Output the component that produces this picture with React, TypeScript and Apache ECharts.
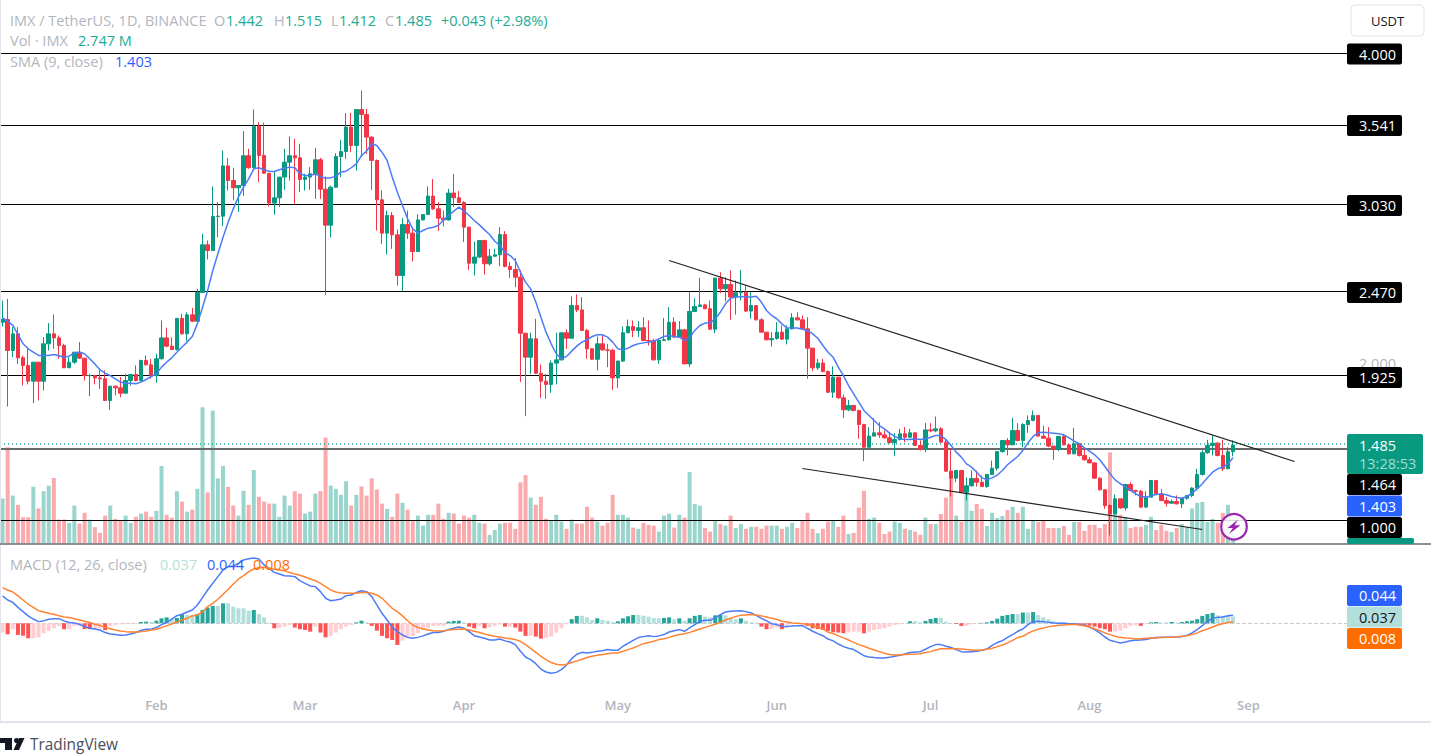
import React, { useEffect, useRef } from "react";
import * as echarts from "echarts";

const opens = [
  2.274,2.291,2.092,2.199,2.045,1.996,1.895,2.017,1.895,2.135,
  2.199,2.173,2.124,1.981,2.017,2.081,2.043,1.931,1.931,1.916,
  1.910,1.771,1.863,1.852,1.818,1.899,1.938,1.899,2.028,2.000,
  1.931,2.039,2.173,2.120,2.098,2.298,2.199,2.321,2.280,2.465,
  2.771,2.734,2.953,2.955,3.278,3.184,3.137,3.152,3.343,3.266,
  3.533,3.345,3.231,3.039,3.073,3.206,3.302,3.343,3.330,3.191,
  3.206,3.227,3.317,3.128,2.897,3.141,3.338,3.370,3.527,3.409,
  3.640,3.608,3.463,3.313,3.060,2.846,2.959,2.835,2.574,2.901,
  2.846,2.728,2.931,2.966,3.084,3.002,2.942,2.931,3.103,3.073,
  3.043,2.884,2.653,2.692,2.799,2.649,2.698,2.707,2.837,2.632,
  2.612,2.563,2.203,2.049,2.167,1.946,1.895,1.874,2.011,2.032,
  2.206,2.171,2.381,2.353,2.221,2.103,2.036,2.135,2.096,2.094,
  1.916,2.024,2.206,2.246,2.221,2.238,2.156,2.154,2.032,2.156,
  2.161,2.274,2.178,2.225,2.006,2.343,2.375,2.385,2.360,2.229,
  2.557,2.488,2.516,2.435,2.463,2.467,2.345,2.381,2.289,2.210,
  2.161,2.169,2.210,2.165,2.231,2.302,2.289,2.231,2.107,1.981,
  2.011,1.957,1.824,1.921,1.788,1.711,1.739,1.707,1.617,1.471,
  1.542,1.563,1.550,1.531,1.501,1.520,1.557,1.535,1.563,1.482,
  1.456,1.582,1.576,1.589,1.503,1.317,1.272,1.321,1.182,1.223,
  1.270,1.246,1.218,1.296,1.336,1.443,1.514,1.486,1.578,1.514,
  1.617,1.642,1.675,1.542,1.529,1.478,1.456,1.540,1.486,1.428,
  1.493,1.418,1.390,1.370,1.272,1.197,1.096,1.043,1.139,1.081,
  1.231,1.193,1.188,1.086,1.150,1.257,1.171,1.128,1.111,1.122,
  1.107,1.143,1.161,1.208,1.296,1.435,1.482,1.497,1.418,1.332,
  1.442,
];
const closes = [
  2.291,2.092,2.199,2.045,1.996,1.895,2.017,1.895,2.135,2.199,
  2.173,2.124,1.981,2.017,2.081,2.043,1.931,1.931,1.916,1.910,
  1.771,1.863,1.852,1.818,1.899,1.938,1.899,2.028,2.000,1.931,
  2.039,2.173,2.120,2.098,2.298,2.199,2.321,2.280,2.465,2.771,
  2.734,2.953,2.955,3.278,3.184,3.137,3.152,3.343,3.266,3.533,
  3.345,3.231,3.039,3.073,3.206,3.302,3.343,3.330,3.191,3.206,
  3.227,3.317,3.128,2.897,3.141,3.338,3.370,3.527,3.409,3.640,
  3.608,3.463,3.313,3.060,2.846,2.959,2.835,2.574,2.901,2.846,
  2.728,2.931,2.966,3.084,3.002,2.942,2.931,3.103,3.073,3.043,
  2.884,2.653,2.692,2.799,2.649,2.698,2.707,2.837,2.632,2.612,
  2.563,2.203,2.049,2.167,1.946,1.895,1.874,2.011,2.032,2.206,
  2.171,2.381,2.353,2.221,2.103,2.036,2.135,2.096,2.094,1.916,
  2.024,2.206,2.246,2.221,2.238,2.156,2.154,2.032,2.156,2.161,
  2.274,2.178,2.225,2.006,2.343,2.375,2.385,2.360,2.229,2.557,
  2.488,2.516,2.435,2.463,2.467,2.345,2.381,2.289,2.210,2.161,
  2.169,2.210,2.165,2.231,2.302,2.289,2.231,2.107,1.981,2.011,
  1.957,1.824,1.921,1.788,1.711,1.739,1.707,1.617,1.471,1.542,
  1.563,1.550,1.531,1.501,1.520,1.557,1.535,1.563,1.482,1.456,
  1.582,1.576,1.589,1.503,1.317,1.272,1.321,1.182,1.223,1.270,
  1.246,1.218,1.296,1.336,1.443,1.514,1.486,1.578,1.514,1.617,
  1.642,1.675,1.542,1.529,1.478,1.456,1.540,1.486,1.428,1.493,
  1.418,1.390,1.370,1.272,1.197,1.096,1.043,1.139,1.081,1.231,
  1.193,1.188,1.086,1.150,1.257,1.171,1.128,1.111,1.122,1.107,
  1.143,1.161,1.208,1.296,1.435,1.482,1.497,1.418,1.332,1.442,
  1.485,
];
const highs = [
  2.413,2.424,2.242,2.242,2.060,2.113,2.017,2.017,2.178,2.268,
  2.323,2.188,2.135,2.049,2.081,2.146,2.043,1.942,1.931,1.964,
  1.964,1.863,1.867,1.921,1.942,1.942,1.996,2.032,2.060,2.039,
  2.071,2.285,2.238,2.178,2.302,2.328,2.338,2.366,2.488,2.842,
  2.799,3.146,3.045,3.377,3.330,3.266,3.152,3.501,3.388,3.640,
  3.559,3.555,3.231,3.244,3.206,3.388,3.467,3.452,3.420,3.227,
  3.270,3.394,3.330,3.210,3.152,3.360,3.445,3.617,3.619,3.640,
  3.762,3.645,3.467,3.319,3.120,2.991,2.981,2.869,2.944,2.991,
  2.884,2.966,2.966,3.146,3.193,3.045,2.991,3.131,3.227,3.116,
  3.051,2.889,2.792,2.799,2.799,2.745,2.745,2.884,2.859,2.660,
  2.685,2.610,2.206,2.206,2.296,2.002,1.942,2.028,2.206,2.206,
  2.227,2.439,2.452,2.435,2.231,2.103,2.182,2.188,2.135,2.103,
  2.028,2.246,2.291,2.285,2.281,2.306,2.285,2.167,2.167,2.302,
  2.370,2.306,2.281,2.231,2.467,2.428,2.559,2.392,2.413,2.557,
  2.595,2.563,2.606,2.542,2.610,2.510,2.467,2.381,2.300,2.210,
  2.210,2.274,2.253,2.253,2.332,2.338,2.317,2.306,2.109,2.039,
  2.039,1.964,1.991,1.921,1.809,1.775,1.743,1.711,1.621,1.600,
  1.657,1.632,1.578,1.567,1.561,1.589,1.600,1.589,1.563,1.514,
  1.627,1.625,1.668,1.600,1.525,1.460,1.321,1.325,1.278,1.321,
  1.321,1.289,1.296,1.385,1.443,1.514,1.529,1.660,1.625,1.625,
  1.675,1.707,1.675,1.610,1.600,1.478,1.540,1.557,1.493,1.595,
  1.497,1.471,1.407,1.375,1.278,1.201,1.103,1.167,1.139,1.236,
  1.246,1.197,1.197,1.188,1.261,1.261,1.203,1.150,1.135,1.161,
  1.146,1.161,1.214,1.332,1.454,1.518,1.546,1.505,1.518,1.471,
  1.515,
];
const lows = [
  2.246,1.732,2.049,2.006,1.867,1.874,1.754,1.771,1.835,2.092,
  2.103,2.039,1.981,1.981,2.006,2.039,1.899,1.799,1.874,1.846,
  1.771,1.711,1.803,1.792,1.814,1.867,1.893,1.893,1.996,1.910,
  1.884,2.034,2.113,2.096,2.092,2.195,2.152,2.276,2.276,2.465,
  2.677,2.734,2.820,2.891,3.120,3.058,2.981,3.086,3.259,3.266,
  3.173,3.227,3.017,2.964,3.013,3.124,3.184,3.034,3.109,3.120,
  3.124,3.066,3.066,2.450,2.820,3.137,3.206,3.323,3.366,3.248,
  3.334,3.355,3.124,2.863,2.777,2.709,2.745,2.510,2.473,2.809,
  2.664,2.724,2.927,2.961,2.996,2.859,2.889,2.927,3.013,3.039,
  2.788,2.610,2.574,2.687,2.580,2.638,2.692,2.634,2.627,2.559,
  2.499,1.889,1.670,1.942,1.942,1.788,1.782,1.820,1.874,2.028,
  2.103,2.171,2.338,2.216,2.039,2.032,1.964,2.092,1.985,1.839,
  1.852,2.017,2.203,2.178,2.178,2.152,2.124,2.028,2.006,2.156,
  2.156,2.173,2.173,2.006,1.985,2.338,2.375,2.360,2.225,2.203,
  2.460,2.409,2.289,2.323,2.413,2.340,2.296,2.285,2.206,2.156,
  2.118,2.161,2.161,2.131,2.227,2.285,2.227,1.910,1.959,1.968,
  1.953,1.818,1.788,1.782,1.657,1.702,1.700,1.525,1.381,1.460,
  1.542,1.531,1.525,1.493,1.413,1.514,1.503,1.531,1.478,1.450,
  1.439,1.567,1.567,1.499,1.313,1.154,1.246,1.178,1.128,1.218,
  1.218,1.218,1.210,1.291,1.321,1.435,1.418,1.486,1.510,1.471,
  1.563,1.638,1.540,1.525,1.471,1.390,1.445,1.482,1.424,1.428,
  1.411,1.385,1.368,1.268,1.193,1.075,0.904,1.039,1.075,1.064,
  1.188,1.161,1.081,1.081,1.146,1.167,1.124,1.090,1.107,1.103,
  1.079,1.133,1.150,1.203,1.289,1.428,1.418,1.411,1.317,1.332,
  1.412,
];
const sma9 = [
  2.302,2.281,2.253,2.195,2.135,2.103,2.081,2.060,2.060,2.060,
  2.066,2.058,2.049,2.056,2.077,2.081,2.071,2.039,2.006,1.968,
  1.946,1.931,1.910,1.889,1.882,1.882,1.878,1.889,1.906,1.925,
  1.942,1.985,2.017,2.045,2.081,2.114,2.146,2.182,2.263,2.370,
  2.478,2.606,2.713,2.820,2.916,3.002,3.077,3.141,3.195,3.259,
  3.266,3.253,3.244,3.242,3.253,3.263,3.270,3.266,3.227,3.216,
  3.216,3.227,3.210,3.199,3.201,3.212,3.238,3.244,3.266,3.291,
  3.345,3.373,3.420,3.409,3.366,3.313,3.206,3.109,3.024,2.938,
  2.874,2.846,2.863,2.878,2.884,2.895,2.931,2.959,2.987,3.013,
  2.987,2.959,2.927,2.899,2.867,2.837,2.794,2.767,2.720,2.702,
  2.670,2.595,2.531,2.488,2.403,2.306,2.210,2.135,2.071,2.039,
  2.054,2.088,2.120,2.146,2.161,2.182,2.193,2.193,2.178,2.146,
  2.103,2.096,2.107,2.124,2.135,2.141,2.146,2.152,2.167,2.182,
  2.188,2.182,2.178,2.156,2.173,2.221,2.253,2.268,2.268,2.296,
  2.338,2.392,2.428,2.435,2.439,2.435,2.435,2.441,2.403,2.349,
  2.317,2.296,2.263,2.238,2.236,2.236,2.229,2.221,2.199,2.171,
  2.124,2.081,2.049,1.985,1.931,1.867,1.814,1.760,1.707,1.675,
  1.642,1.610,1.589,1.561,1.540,1.525,1.520,1.520,1.525,1.520,
  1.525,1.535,1.546,1.546,1.520,1.482,1.439,1.407,1.364,1.343,
  1.310,1.274,1.263,1.274,1.291,1.321,1.358,1.385,1.411,1.450,
  1.499,1.540,1.565,1.567,1.563,1.561,1.557,1.550,1.531,1.510,
  1.493,1.467,1.445,1.422,1.390,1.347,1.300,1.261,1.236,1.218,
  1.193,1.171,1.156,1.150,1.158,1.167,1.171,1.165,1.154,1.148,
  1.143,1.154,1.176,1.203,1.236,1.274,1.310,1.332,1.343,1.364,
  1.403,
];
const volumeM = [
  11.4,24.2,12.1,9.8,6.7,6.7,14.3,8.9,13.2,14.6,
  16.5,6.1,6.1,5.3,9.6,5.1,7.8,6.1,4.2,2.8,
  7.1,9.6,6.3,5.8,7.1,5.3,6.8,7.6,8.1,6.8,
  8.3,19.5,7.3,6.6,13.2,10.6,8.1,8.6,13.8,34.2,
  12.9,33.3,16.4,19.5,14.3,9.6,7.1,13.3,9.8,18.5,
  11.8,10.6,10.1,10.1,6.8,12.1,9.6,13.2,12.6,7.6,
  8.1,12.6,13.2,26.6,14.6,13.8,12.3,15.7,9.6,12.3,
  14.4,12.1,16.4,13.6,10.1,8.8,6.8,12.6,10.3,8.6,
  5.7,7.1,4.6,7.3,7.3,10.1,6.3,7.8,7.6,5.1,
  7.1,6.6,7.3,5.3,5.1,2.3,3.5,5.1,5.3,5.3,
  3.8,15.4,17.2,11.6,9.8,11.8,6.3,5.8,7.3,5.6,
  3.8,6.1,5.1,5.1,9.3,6.6,5.6,4.6,5.3,12.3,
  7.3,7.3,6.6,4.1,3.8,5.3,4.8,4.6,3.1,7.1,
  7.6,4.1,7.3,6.6,18.0,10.0,9.6,4.0,3.1,5.7,
  5.0,4.6,7.1,4.0,5.0,3.8,4.3,4.3,3.8,4.6,
  4.6,4.6,3.8,4.3,5.3,4.0,5.8,7.8,3.8,2.7,
  3.8,5.6,6.0,4.3,7.1,2.5,2.8,9.1,13.3,6.3,
  6.6,5.3,2.5,3.1,5.6,5.3,3.8,3.5,3.1,2.3,
  6.6,5.0,5.0,7.5,11.6,18.3,7.1,5.6,13.7,8.3,
  10.0,8.8,4.5,7.8,6.5,7.0,8.5,9.3,7.8,9.3,
  3.8,5.8,5.5,6.0,4.0,4.0,4.0,4.5,2.3,5.5,
  5.5,3.3,4.8,4.8,4.0,5.0,22.9,10.2,7.3,6.8,
  4.0,4.3,4.3,4.8,6.8,3.5,4.8,3.3,3.0,4.0,
  5.0,4.3,8.9,10.3,10.5,5.5,6.3,5.3,7.8,9.8,
  2.747,
];
const macdLine = [
  .148,.126,.113,.086,.063,.040,.023,.009,.013,.022,
  .025,.025,.013,.004,.002,-.005,-.018,-.027,-.031,-.036,
  -.050,-.058,-.061,-.065,-.063,-.058,-.050,-.038,-.032,-.032,
  -.023,-.007,.004,.023,.041,.049,.061,.072,.099,.139,
  .180,.216,.252,.288,.306,.310,.324,.342,.349,.353,
  .347,.315,.297,.275,.266,.257,.256,.252,.230,.216,
  .202,.198,.171,.135,.122,.126,.131,.149,.153,.166,
  .176,.171,.144,.099,.054,.018,-.022,-.045,-.063,-.076,
  -.081,-.076,-.068,-.058,-.050,-.050,-.043,-.034,-.027,-.020,
  -.027,-.045,-.067,-.074,-.081,-.090,-.090,-.085,-.095,-.101,
  -.115,-.151,-.182,-.196,-.218,-.247,-.263,-.270,-.265,-.250,
  -.225,-.191,-.167,-.157,-.160,-.157,-.151,-.148,-.142,-.146,
  -.146,-.124,-.108,-.092,-.077,-.072,-.067,-.072,-.068,-.061,
  -.047,-.040,-.034,-.043,-.025,-.007,.011,.016,.016,.029,
  .047,.061,.065,.067,.068,.063,.056,.043,.027,.013,
  -.002,-.007,-.016,-.018,-.014,-.013,-.013,-.027,-.043,-.056,
  -.067,-.085,-.095,-.112,-.126,-.135,-.142,-.158,-.175,-.182,
  -.185,-.187,-.187,-.184,-.178,-.173,-.166,-.158,-.155,-.153,
  -.140,-.126,-.115,-.115,-.124,-.131,-.142,-.153,-.155,-.153,
  -.151,-.146,-.139,-.119,-.104,-.094,-.076,-.061,-.043,-.031,
  -.007,.009,.011,.009,.005,.002,0,0,-.002,-.002,
  -.007,-.011,-.020,-.034,-.052,-.074,-.092,-.099,-.106,-.101,
  -.094,-.092,-.090,-.088,-.081,-.077,-.076,-.076,-.076,-.074,
  -.072,-.065,-.052,-.034,-.013,.011,.027,.032,.034,.041,
  .044,
];
const signalLine = [
  .193,.180,.169,.148,.126,.103,.086,.068,.061,.054,
  .049,.041,.034,.031,.025,.018,.011,.004,-.005,-.011,
  -.022,-.029,-.036,-.041,-.045,-.047,-.047,-.045,-.041,-.036,
  -.032,-.023,-.014,-.004,.007,.018,.027,.040,.045,.061,
  .090,.108,.130,.157,.184,.212,.238,.257,.279,.293,
  .301,.302,.297,.292,.288,.284,.274,.266,.259,.250,
  .239,.230,.216,.198,.180,.169,.164,.162,.162,.162,
  .166,.167,.162,.153,.135,.108,.081,.063,.040,.014,
  -.009,-.022,-.031,-.036,-.040,-.041,-.040,-.036,-.034,-.032,
  -.031,-.036,-.043,-.050,-.058,-.065,-.070,-.074,-.079,-.083,
  -.088,-.097,-.115,-.135,-.157,-.178,-.196,-.212,-.221,-.225,
  -.221,-.212,-.203,-.194,-.185,-.178,-.173,-.169,-.164,-.160,
  -.160,-.151,-.142,-.133,-.122,-.110,-.104,-.097,-.088,-.083,
  -.076,-.067,-.061,-.056,-.049,-.040,-.031,-.022,-.014,-.005,
  .005,.018,.027,.036,.043,.045,.047,.045,.040,.034,
  .027,.022,.011,.007,.002,0,-.002,-.007,-.013,-.020,
  -.031,-.047,-.056,-.068,-.079,-.090,-.103,-.115,-.124,-.135,
  -.144,-.153,-.162,-.169,-.171,-.171,-.169,-.167,-.166,-.164,
  -.158,-.153,-.144,-.137,-.137,-.137,-.137,-.139,-.142,-.144,
  -.146,-.144,-.140,-.135,-.126,-.117,-.106,-.092,-.077,-.070,
  -.054,-.041,-.032,-.025,-.018,-.014,-.011,-.009,-.007,-.007,
  -.009,-.013,-.020,-.029,-.040,-.052,-.061,-.070,-.076,-.079,
  -.081,-.085,-.083,-.081,-.079,-.079,-.077,-.076,-.076,-.074,
  -.070,-.067,-.061,-.052,-.040,-.031,-.020,-.009,-.002,.004,
  .008,
];
const macdHist = [
  -.050,-.059,-.032,-.063,-.067,-.081,-.081,-.077,-.054,-.040,
  -.027,-.014,-.032,-.032,-.014,-.013,-.031,-.032,-.031,-.027,
  -.036,-.014,-.009,-.005,-.004,-.004,-.004,.007,.009,.007,
  .014,.027,.032,.025,.029,.049,.045,.045,.050,.072,
  .085,.094,.094,.108,.108,.090,.081,.081,.068,.072,
  .050,.032,.004,-.027,-.027,-.018,-.009,-.023,-.032,-.036,
  -.045,-.018,-.050,-.076,-.068,-.050,-.032,-.018,-.009,.005,
  .014,.005,-.014,-.040,-.068,-.081,-.090,-.117,-.094,-.081,
  -.068,-.054,-.036,-.027,-.014,-.014,-.014,.009,.013,.014,
  .004,-.018,-.027,-.014,-.027,-.022,-.014,-.007,-.018,-.018,
  -.023,-.045,-.068,-.068,-.072,-.083,-.079,-.072,-.050,-.027,
  -.005,.022,.040,.040,.032,.018,.027,.018,.014,.007,
  .011,.027,.038,.045,.045,.041,.036,.029,.027,.029,
  .032,.022,.027,.014,.027,.040,.045,.036,.032,.043,
  .045,.043,.027,.022,.027,.014,.005,.004,-.018,-.032,
  -.031,-.022,-.032,-.013,-.005,-.004,-.002,-.014,-.027,-.031,
  -.036,-.041,-.049,-.050,-.054,-.049,-.045,-.045,-.054,-.045,
  -.036,-.032,-.027,-.018,-.009,-.005,-.002,.011,.011,.005,
  .013,.023,.029,.029,.009,.002,-.004,-.014,-.014,-.005,
  -.002,.002,.005,.013,.025,.040,.045,.050,.050,.058,
  .058,.061,.045,.032,.022,.011,.005,.004,.002,-.002,
  -.005,-.009,-.013,-.018,-.027,-.032,-.045,-.045,-.040,-.027,
  -.014,-.011,-.014,-.005,.005,.007,.004,.004,.007,.004,
  .007,.011,.014,.022,.040,.050,.056,.043,.040,.038,
  .037,
];

const priceLevels = [4.0, 3.541, 3.03, 2.47, 1.925, 1.0];
const thickLevel = 1.464;
const lastPrice = 1.485;
const upperTrend = [{ day: 130, price: 2.67 }, { day: 252, price: 1.379 }];
const lowerTrend = [{ day: 156, price: 1.334 }, { day: 234, price: 0.942 }];

const monthNames: Record<string, string> = {
  "02": "Feb", "03": "Mar", "04": "Apr", "05": "May", "06": "Jun", "07": "Jul", "08": "Aug", "09": "Sep",
};
const categories: string[] = [];
for (let i = 0; i < 263; i++) {
  categories.push(new Date(Date.UTC(2024, 0, 2 + i)).toISOString().slice(0, 10));
}

const GREEN = "#089981";
const RED = "#F23645";
const BLUE = "#2962FF";
const ORANGE = "#FF6D00";
const GREY = "#B2B5BE";
const FONT = '"Open Sans", sans-serif';

function txt(x: number, y: number, text: string, fill: string, size = 14.5, align = "left", weight = "normal") {
  return {
    type: "text", x, y, z: 100, silent: true,
    style: { text, fill, font: `${weight} ${size}px ${FONT}`, align, verticalAlign: "middle" },
  };
}
function box(x: number, y: number, width: number, height: number, fill: string, r = 2) {
  return { type: "rect", z: 99, silent: true, shape: { x, y, width, height, r }, style: { fill } };
}
function priceBox(y: number, label: string, fill = "#000000", color = "#FFFFFF") {
  return [box(1347, y, 55, 21, fill), txt(1359, y + 10.5, label, color)];
}

export default function App() {
  const ref = useRef<HTMLDivElement>(null);
  useEffect(() => {
    document.body.style.margin = "0";
    const chart = echarts.init(ref.current!, undefined, { renderer: "svg" });
    const gridX = { left: -1.57, width: 1350 };
    const isUp = (i: number) => closes[i] >= opens[i];
    const graphicEls: any[] = [
      { type: "rect", z: 98, silent: true, shape: { x: 0, y: 0, width: 1, height: 721 }, style: { fill: "#E0E3EB" } },
      { type: "rect", z: 98, silent: true, shape: { x: 0, y: 721, width: 1431, height: 2 }, style: { fill: "#E0E3EB" } },
      { type: "rect", z: 98, silent: true, shape: { x: 0, y: 543, width: 1431, height: 2 }, style: { fill: "#8A8D96" } },
      box(1347, 538, 67, 6, GREEN),
      txt(10, 20, "IMX / TetherUS, 1D, BINANCE", GREY),
      txt(214, 20, "O", GREY), txt(226, 20, "1.442", "#22AB94"),
      txt(274, 20, "H", GREY), txt(285, 20, "1.515", "#22AB94"),
      txt(331, 20, "L", GREY), txt(339, 20, "1.412", "#22AB94"),
      txt(385, 20, "C", GREY), txt(395, 20, "1.485", "#22AB94"),
      txt(441, 20, "+0.043 (+2.98%)", "#22AB94"),
      txt(10, 40, "Vol · IMX", GREY), txt(78, 40, "2.747 M", "#22AB94"),
      txt(10, 61, "SMA (9, close)", GREY), txt(115, 61, "1.403", BLUE),
      txt(10, 564, "MACD (12, 26, close)", GREY),
      txt(160, 564, "0.037", "#B2DFDB"), txt(207, 564, "0.044", BLUE), txt(253, 564, "0.008", ORANGE),
      {
        type: "rect", z: 99, silent: true, shape: { x: 1351, y: 5, width: 73, height: 31, r: 4 },
        style: { fill: "#FFFFFF", stroke: "#E0E3EB", lineWidth: 1 },
      },
      txt(1387.5, 20.5, "USDT", "#131722", 13, "center"),
      { ...txt(1359, 363, "2.000", GREY), z: 98 },
      ...priceBox(43.5, "4.000"),
      ...priceBox(115, "3.541"),
      ...priceBox(195, "3.030"),
      ...priceBox(282, "2.470"),
      ...priceBox(367, "1.925"),
      box(1347, 434, 76, 40, GREEN),
      txt(1359, 445, "1.485", "#FFFFFF"),
      txt(1359, 463, "13:28:53", "#A6DCD2"),
      ...priceBox(474, "1.464"),
      ...priceBox(495.5, "1.403", BLUE),
      ...priceBox(517, "1.000"),
      ...priceBox(585, "0.044", BLUE),
      ...priceBox(606.5, "0.037", "#B2DFDB", "#131722"),
      ...priceBox(628, "0.008", ORANGE),
      {
        type: "circle", z: 101, silent: true, shape: { cx: 1234, cy: 526.7, r: 12.8 },
        style: { fill: "rgba(255,255,255,0.85)", stroke: "#9C27B0", lineWidth: 2.2 },
      },
      {
        type: "polygon", z: 102, silent: true,
        shape: { points: [[1238, 519.5], [1227.5, 528], [1232.8, 528], [1229, 534], [1240.5, 525.2], [1234.6, 525.2]] },
        style: { fill: "#9C27B0" },
      },
      { type: "rect", z: 100, silent: true, shape: { x: 0, y: 738, width: 12, height: 5 }, style: { fill: "#131722" } },
      { type: "rect", z: 100, silent: true, shape: { x: 5, y: 738, width: 7, height: 12 }, style: { fill: "#131722" } },
      { type: "circle", z: 100, silent: true, shape: { cx: 16.5, cy: 740.5, r: 2.5 }, style: { fill: "#131722" } },
      { type: "polygon", z: 100, silent: true, shape: { points: [[24.5, 738], [19, 750], [13.5, 750], [19, 738]] }, style: { fill: "#131722" } },
      txt(30, 744, "TradingView", "#4A4E59", 15.4),
    ];
    chart.setOption({
      animation: false,
      backgroundColor: "#FFFFFF",
      tooltip: { show: false },
      grid: [
        { ...gridX, top: 0.5, height: 544 },
        { ...gridX, top: 404, height: 140 },
        { ...gridX, top: 545, height: 150 },
      ],
      xAxis: [0, 1].map((g) => ({
        type: "category", gridIndex: g, data: categories, show: false, boundaryGap: true,
      })).concat([{
        type: "category", gridIndex: 2, data: categories, boundaryGap: true, show: true,
        axisLine: { show: false }, axisTick: { show: false }, splitLine: { show: false },
        axisLabel: {
          show: true, margin: 3, color: GREY, fontSize: 13, fontFamily: FONT, fontWeight: 600,
          interval: (_i: number, v: string) => v.endsWith("-01"),
          formatter: (v: string) => monthNames[v.slice(5, 7)] ?? "",
        },
      } as any]),
      yAxis: [
        { type: "value", gridIndex: 0, min: 0.8458, max: 4.3404, show: false },
        { type: "value", gridIndex: 1, min: 0, max: 35, show: false },
        { type: "value", gridIndex: 2, min: -0.3872, max: 0.4228, show: false },
      ],
      series: [
        {
          name: "Vol", type: "bar", xAxisIndex: 1, yAxisIndex: 1, z: 1, barWidth: 4, silent: true,
          data: volumeM.map((v, i) => ({ value: v, itemStyle: { color: isUp(i) ? "#9AD5CD" : "#FAA9AD" } })),
        },
        {
          name: "Levels", type: "line", z: 2, silent: true, showSymbol: false, lineStyle: { opacity: 0 },
          data: closes,
          markLine: {
            z: 2, silent: true, symbol: "none", label: { show: false },
            lineStyle: { color: "#000000", width: 1, type: "solid" },
            data: [
              ...priceLevels.map((p) => ({ yAxis: p })),
              { yAxis: thickLevel, lineStyle: { color: "#6A6A6A", width: 2, type: "solid" } },
              { yAxis: lastPrice, lineStyle: { color: "#22AB94", type: [1, 3], width: 1.5 } },
            ],
          },
        },
        {
          name: "IMX", type: "candlestick", z: 3, barWidth: 4, silent: true,
          data: closes.map((c, i) => [opens[i], c, lows[i], highs[i]]),
          itemStyle: { color: GREEN, color0: RED, borderColor: GREEN, borderColor0: RED, borderWidth: 1 },
        },
        {
          name: "SMA", type: "line", z: 4, silent: true, showSymbol: false, data: sma9,
          lineStyle: { color: "#4C7BF7", width: 1.5 },
          markLine: {
            z: 5, silent: true, symbol: "none", label: { show: false },
            lineStyle: { color: "#222222", width: 1.2, type: "solid" },
            data: [upperTrend, lowerTrend].map((t) =>
              t.map((p) => ({ coord: [categories[p.day], p.price] })),
            ),
          },
        },
        {
          name: "Histogram", type: "bar", xAxisIndex: 2, yAxisIndex: 2, z: 1, barWidth: 4, silent: true,
          data: macdHist.map((v, i) => {
            const prev = i ? macdHist[i - 1] : v;
            const color = v >= 0 ? (v > prev ? "#26A69A" : "#B2DFDB") : (v < prev ? "#FF5252" : "#FFCDD2");
            return { value: v, itemStyle: { color } };
          }),
          markLine: {
            z: 1, silent: true, symbol: "none", label: { show: false },
            lineStyle: { color: "#C9CBD2", width: 1, type: "dashed" },
            data: [{ yAxis: 0 }],
          },
        },
        {
          name: "MACD", type: "line", xAxisIndex: 2, yAxisIndex: 2, z: 3, silent: true, showSymbol: false,
          data: macdLine, lineStyle: { color: "#4C7BF7", width: 1.5 },
        },
        {
          name: "Signal", type: "line", xAxisIndex: 2, yAxisIndex: 2, z: 3, silent: true, showSymbol: false,
          data: signalLine, lineStyle: { color: "#FF8433", width: 1.5 },
        },
      ],
      graphic: { elements: graphicEls },
    });
    return () => chart.dispose();
  }, []);
  return <div ref={ref} style={{ position: "fixed", left: 0, top: 0, width: 1431, height: 755 }} />;
}
